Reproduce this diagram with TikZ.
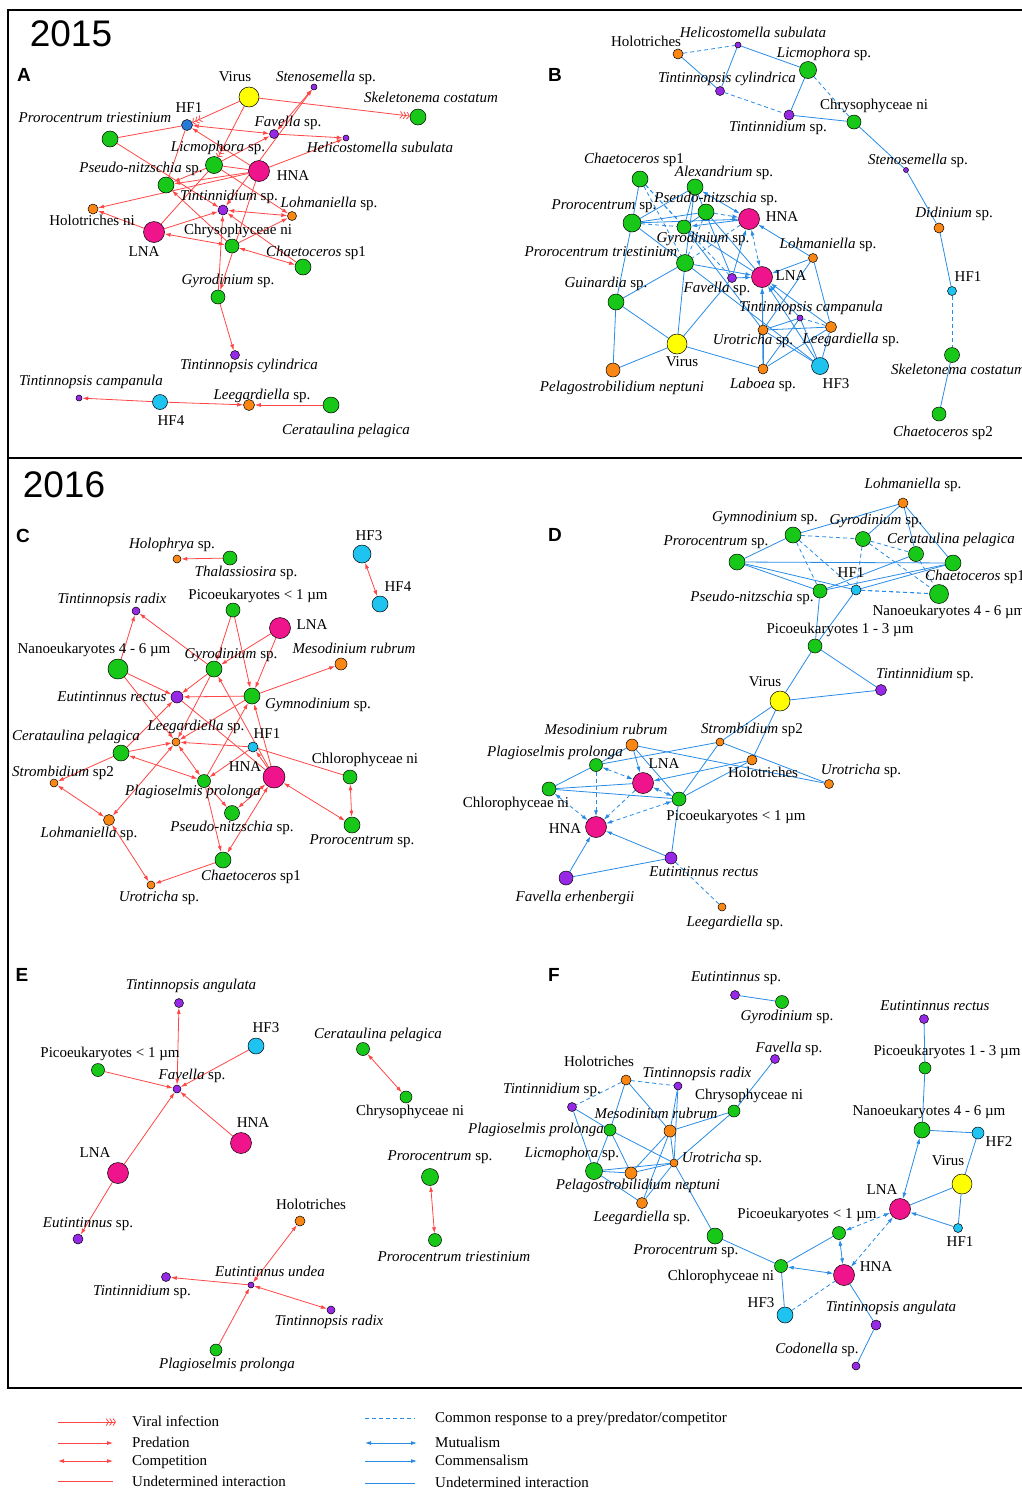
\documentclass[tikz,border=0pt]{standalone}
\usepackage{fontspec}
\setmainfont{Liberation Serif}
\setsansfont{Liberation Sans}
\usetikzlibrary{arrows.meta}
\definecolor{cgr}{RGB}{24,200,24}
\definecolor{cpk}{RGB}{240,20,140}
\definecolor{cyl}{RGB}{255,255,0}
\definecolor{cog}{RGB}{250,135,20}
\definecolor{cpu}{RGB}{150,40,230}
\definecolor{ccy}{RGB}{30,195,240}
\definecolor{cbu}{RGB}{40,120,215}
\definecolor{cred}{RGB}{255,70,70}
\definecolor{cblu}{RGB}{40,140,230}
\pgfdeclarelayer{bg}
\pgfsetlayers{bg,main}
\tikzset{
  >={Latex[length=6pt,width=4pt]},
  nd/.style={circle,draw=black,line width=0.5pt,inner sep=0pt},
  gr/.style={nd,fill=cgr,minimum size=#1},
  pk/.style={nd,fill=cpk,minimum size=#1},
  yl/.style={nd,fill=cyl,minimum size=#1},
  og/.style={nd,fill=cog,minimum size=#1},
  pu/.style={nd,fill=cpu,minimum size=#1},
  cy/.style={nd,fill=ccy,minimum size=#1},
  bu/.style={nd,fill=cbu,minimum size=#1},
  lab/.style={font=\fontsize{15}{17}\selectfont,inner sep=0pt,text height=10pt,text depth=3pt},
  yr/.style={font=\sffamily\fontsize{37}{40}\selectfont,inner sep=0pt},
  pnl/.style={font=\sffamily\bfseries\fontsize{19}{21}\selectfont,inner sep=0pt},
  rd/.style={draw=cred,line width=0.8pt},
  pred/.style={rd,->},
  comp/.style={rd,<->},
  viral/.style={rd,-{Straight Barb[length=2.5pt,width=7pt]Straight Barb[length=2.5pt,width=7pt]Straight Barb[length=2.5pt,width=7pt]}},
  bl/.style={draw=cblu,line width=0.8pt},
  cr/.style={bl,dash pattern=on 4pt off 3pt},
  com/.style={bl,->},
  mut/.style={bl,<->},
  crc/.style={cr,->},
  crm/.style={cr,<->}
}
\begin{document}
\begin{tikzpicture}[x=1pt,y=-1pt]
\useasboundingbox (0,0) rectangle (1021,1489);
\draw[line width=1.6pt] (8,10) rectangle (1040,458);
\draw[line width=1.6pt] (8,458) rectangle (1040,1388);
\node[yr] (y15) at (71,34) {2015};
\node[yr] (y16) at (64,485) {2016};
\node[pnl] (pA) at (24,75) {A};
\node[pnl] (pB) at (555,75) {B};
\node[pnl] (pC) at (23,536) {C};
\node[pnl] (pD) at (555,535) {D};
\node[pnl] (pE) at (22,975) {E};
\node[pnl] (pF) at (554,975) {F};

%panel A
\node[yl=20pt] (aVir) at (249,97) {};
\node[pu=6pt] (aSte) at (314,87) {};
\node[gr=16pt] (aSke) at (418,117) {};
\node[bu=11pt] (aHF1) at (187,125) {};
\node[gr=16pt] (aPtr) at (110,139) {};
\node[pu=9pt] (aFav) at (274,134) {};
\node[pu=6pt] (aHel) at (346,138) {};
\node[gr=17pt] (aLic) at (214,165) {};
\node[pk=21pt] (aHNA) at (259,171) {};
\node[gr=16pt] (aPse) at (166,185) {};
\node[og=10pt] (aHol) at (93,209) {};
\node[pu=10pt] (aTin) at (223,210) {};
\node[og=9pt] (aLoh) at (292,216) {};
\node[pk=21pt] (aLNA) at (154,232) {};
\node[gr=14pt] (aChr) at (232,246) {};
\node[gr=16pt] (aCha) at (303,267) {};
\node[gr=14pt] (aGyr) at (218,297) {};
\node[pu=9pt] (aTcy) at (235,355) {};
\node[pu=6pt] (aTca) at (79,398) {};
\node[cy=15pt] (aHF4) at (160,402) {};
\node[og=11pt] (aLee) at (249,405) {};
\node[gr=16pt] (aCer) at (331,405) {};
\begin{pgfonlayer}{bg}
\draw[viral] (aVir) -- (aHF1);
\draw[viral] (aVir) -- (aLic);
\draw[viral] (aVir) -- (aSke);
\draw[rd] (aPtr) -- (aHF1);
\draw[pred] (aPtr) -- (aTin);
\draw[comp] (aHF1) -- (aFav);
\draw[pred] (aHNA) -- (aHF1);
\draw[rd] (aPse) -- (aHF1);
\draw[pred] (aLic) -- (aPse);
\draw[pred] (aLic) -- (aFav);
\draw[comp] (aFav) -- (aSte);
\draw[comp] (aSte) -- (aTin);
\draw[pred] (aFav) -- (aHel);
\draw[pred] (aHNA) -- (aHel);
\draw[rd] (aLic) -- (aHNA);
\draw[pred] (aLic) -- (aLoh);
\draw[pred] (aHNA) -- (aPse);
\draw[pred] (aHNA) -- (aHol);
\draw[pred] (aLNA) -- (aHol);
\draw[rd] (aLNA) -- (aLic);
\draw[pred] (aChr) -- (aPse);
\draw[pred] (aLNA) -- (aTin);
\draw[comp] (aLNA) -- (aChr);
\draw[comp] (aTin) -- (aLoh);
\draw[pred] (aCha) -- (aTin);
\draw[comp] (aChr) -- (aCha);
\draw[pred] (aChr) -- (aLoh);
\draw[pred] (aGyr) -- (aTin);
\draw[pred] (aHNA) -- (aGyr);
\draw[pred] (aGyr) -- (aTcy);
\draw[pred] (aHF4) -- (aTca);
\draw[pred] (aHF4) -- (aLee);
\draw[pred] (aCer) -- (aLee);
\end{pgfonlayer}
\node[lab] (aVirT) at (235,78) {Virus};
\node[lab] (aSteT) at (326,78) {\textit{Stenosemella} sp.};
\node[lab] (aSkeT) at (431,99) {\textit{Skeletonema costatum}};
\node[lab] (aHF1T) at (189,109) {HF1};
\node[lab] (aPtrT) at (95,119) {\textit{Prorocentrum triestinium}};
\node[lab] (aFavT) at (288,123) {\textit{Favella} sp.};
\node[lab] (aHelT) at (380,149) {\textit{Helicostomella subulata}};
\node[lab] (aLicT) at (218,148) {\textit{Licmophora} sp.};
\node[lab] (aHNAT) at (293,177) {HNA};
\node[lab] (aPseT) at (141,169) {\textit{Pseudo-nitzschia} sp.};
\node[lab] (aTinT) at (229,197) {\textit{Tintinnidium} sp.};
\node[lab] (aLohT) at (329,204) {\textit{Lohmaniella} sp.};
\node[lab] (aHolT) at (92,222) {Holotriches ni};
\node[lab] (aChrT) at (238,231) {Chrysophyceae ni};
\node[lab] (aLNAT) at (144,253) {LNA};
\node[lab] (aChaT) at (316,253) {\textit{Chaetoceros} sp1};
\node[lab] (aGyrT) at (228,281) {\textit{Gyrodinium} sp.};
\node[lab] (aTcyT) at (249,366) {\textit{Tintinnopsis cylindrica}};
\node[lab] (aTcaT) at (91,382) {\textit{Tintinnopsis campanula}};
\node[lab] (aLeeT) at (262,396) {\textit{Leegardiella} sp.};
\node[lab] (aHF4T) at (171,422) {HF4};
\node[lab] (aCerT) at (346,431) {\textit{Cerataulina pelagica}};

%panel B
\node[og=10pt] (bHol) at (678,54) {};
\node[pu=6pt] (bHel) at (738,45) {};
\node[gr=17pt] (bLic) at (808,70) {};
\node[pu=9pt] (bTcy) at (720,91) {};
\node[pu=10pt] (bTin) at (789,115) {};
\node[gr=14pt] (bChr) at (854,122) {};
\node[pu=5pt] (bSte) at (906,170) {};
\node[og=10pt] (bDid) at (939,228) {};
\node[cy=9pt] (bHF1) at (952,291) {};
\node[gr=15pt] (bSke) at (952,355) {};
\node[gr=14pt] (bCh2) at (939,414) {};
\node[gr=16pt] (bCh1) at (640,179) {};
\node[gr=16pt] (bAlx) at (695,187) {};
\node[gr=16pt] (bPse) at (706,212) {};
\node[gr=18pt] (bPro) at (632,223) {};
\node[gr=14pt] (bGyr) at (684,227) {};
\node[pk=21pt] (bHNA) at (749,219) {};
\node[gr=17pt] (bPtr) at (685,263) {};
\node[og=9pt] (bLoh) at (813,258) {};
\node[pu=9pt] (bFav) at (732,278) {};
\node[pk=21pt] (bLNA) at (762,277) {};
\node[gr=16pt] (bGui) at (616,302) {};
\node[pu=6pt] (bTca) at (800,318) {};
\node[og=10pt] (bUro) at (763,330) {};
\node[og=11pt] (bLee) at (831,327) {};
\node[yl=20pt] (bVir) at (677,344) {};
\node[og=14pt] (bPel) at (613,370) {};
\node[og=10pt] (bLab) at (763,369) {};
\node[cy=17pt] (bHF3) at (820,366) {};
\begin{pgfonlayer}{bg}
\draw[cr] (bHol) -- (bHel);
\draw[bl] (bHol) -- (bTcy);
\draw[bl] (bHel) -- (bTcy);
\draw[bl] (bHel) -- (bLic);
\draw[cr] (bTcy) -- (bTin);
\draw[bl] (bLic) -- (bTin);
\draw[cr] (bLic) -- (bChr);
\draw[bl] (bTin) -- (bChr);
\draw[bl] (bChr) -- (bSte);
\draw[bl] (bSte) -- (bDid);
\draw[bl] (bDid) -- (bHF1);
\draw[cr] (bHF1) -- (bSke);
\draw[bl] (bSke) -- (bCh2);
\draw[bl] (bCh1) -- (bPro);
\draw[cr] (bCh1) -- (bGyr);
\draw[cr] (bCh1) -- (bPtr);
\draw[cr] (bCh1) -- (bFav);
\draw[bl] (bAlx) -- (bPro);
\draw[mut] (bAlx) -- (bHNA);
\draw[bl] (bAlx) -- (bFav);
\draw[bl] (bAlx) -- (bGyr);
\draw[bl] (bAlx) -- (bPtr);
\draw[bl] (bPro) -- (bPse);
\draw[com] (bPro) -- (bHNA);
\draw[cr] (bPro) -- (bGyr);
\draw[bl] (bPro) -- (bPtr);
\draw[bl] (bPro) -- (bGui);
\draw[crc] (bPse) -- (bHNA);
\draw[bl] (bPse) -- (bGyr);
\draw[cr] (bPse) -- (bPtr);
\draw[bl] (bPse) -- (bLNA);
\draw[com] (bHNA) -- (bGyr);
\draw[crm] (bHNA) -- (bLNA);
\draw[cr] (bHNA) -- (bPtr);
\draw[bl] (bGyr) -- (bLNA);
\draw[bl] (bGyr) -- (bUro);
\draw[com] (bPtr) -- (bLNA);
\draw[bl] (bPtr) -- (bGui);
\draw[bl] (bPtr) -- (bHF3);
\draw[bl] (bPtr) -- (bVir);
\draw[com] (bLoh) -- (bHNA);
\draw[com] (bLoh) -- (bLNA);
\draw[bl] (bLoh) -- (bUro);
\draw[bl] (bLoh) -- (bLee);
\draw[com] (bFav) -- (bHNA);
\draw[com] (bFav) -- (bLNA);
\draw[bl] (bFav) -- (bVir);
\draw[com] (bTca) -- (bLNA);
\draw[com] (bUro) -- (bLNA);
\draw[com] (bLee) -- (bLNA);
\draw[com] (bHF3) -- (bLNA);
\draw[com] (bLab) -- (bLNA);
\draw[bl] (bUro) -- (bLee);
\draw[bl] (bUro) -- (bTca);
\draw[bl] (bUro) -- (bLab);
\draw[bl] (bUro) -- (bHF3);
\draw[bl] (bLee) -- (bLab);
\draw[cr] (bLee) -- (bTca);
\draw[bl] (bLee) -- (bHF3);
\draw[bl] (bVir) -- (bGui);
\draw[bl] (bVir) -- (bPel);
\draw[bl] (bVir) -- (bLab);
\draw[bl] (bGui) -- (bPel);
\draw[bl] (bLab) -- (bTca);
\draw[bl] (bHF3) -- (bTca);
\end{pgfonlayer}
\node[lab] (bHolT) at (646,43) {Holotriches};
\node[lab] (bHelT) at (753,34) {\textit{Helicostomella subulata}};
\node[lab] (bLicT) at (824,54) {\textit{Licmophora} sp.};
\node[lab] (bTcyT) at (727,79) {\textit{Tintinnopsis cylindrica}};
\node[lab] (bChrT) at (874,106) {Chrysophyceae ni};
\node[lab] (bTinT) at (778,128) {\textit{Tintinnidium} sp.};
\node[lab] (bSteT) at (918,161) {\textit{Stenosemella} sp.};
\node[lab] (bCh1T) at (634,160) {\textit{Chaetoceros} sp1};
\node[lab] (bAlxT) at (724,173) {\textit{Alexandrium} sp.};
\node[lab] (bPseT) at (716,199) {\textit{Pseudo-nitzschia} sp.};
\node[lab] (bProT) at (604,206) {\textit{Prorocentrum} sp.};
\node[lab] (bHNAT) at (782,218) {HNA};
\node[lab] (bGyrT) at (703,239) {\textit{Gyrodinium} sp.};
\node[lab] (bDidT) at (954,214) {\textit{Didinium} sp.};
\node[lab] (bLohT) at (828,245) {\textit{Lohmaniella} sp.};
\node[lab] (bPtrT) at (601,253) {\textit{Prorocentrum triestinium}};
\node[lab] (bLNAT) at (791,277) {LNA};
\node[lab] (bHF1T) at (968,278) {HF1};
\node[lab] (bGuiT) at (606,284) {\textit{Guinardia} sp.};
\node[lab] (bFavT) at (717,289) {\textit{Favella} sp.};
\node[lab] (bTcaT) at (811,308) {\textit{Tintinnopsis campanula}};
\node[lab] (bUroT) at (753,341) {\textit{Urotricha} sp.};
\node[lab] (bLeeT) at (851,340) {\textit{Leegardiella} sp.};
\node[lab] (bVirT) at (682,363) {Virus};
\node[lab] (bSkeT) at (958,371) {\textit{Skeletonema costatum}};
\node[lab] (bPelT) at (622,388) {\textit{Pelagostrobilidium neptuni}};
\node[lab] (bLabT) at (763,385) {\textit{Laboea} sp.};
\node[lab] (bHF3T) at (836,385) {HF3};
\node[lab] (bCh2T) at (943,433) {\textit{Chaetoceros} sp2};

%panel C
\node[og=8pt] (cHol) at (177,559) {};
\node[gr=14pt] (cTha) at (230,558) {};
\node[cy=18pt] (cHF3) at (362,554) {};
\node[cy=16pt] (cHF4) at (380,604) {};
\node[pu=8pt] (cTra) at (136,611) {};
\node[gr=14pt] (cPic) at (233,610) {};
\node[pk=21pt] (cLNA) at (280,628) {};
\node[gr=20pt] (cNan) at (118,669) {};
\node[gr=16pt] (cGyr) at (214,669) {};
\node[og=12pt] (cMes) at (341,664) {};
\node[pu=12pt] (cEre) at (177,697) {};
\node[gr=16pt] (cGym) at (252,696) {};
\node[og=8pt] (cLee) at (176,742) {};
\node[cy=10pt] (cHF1) at (253,747) {};
\node[gr=16pt] (cCer) at (121,753) {};
\node[og=8pt] (cStr) at (54,783) {};
\node[pk=22pt] (cHNA) at (274,777) {};
\node[gr=13pt] (cPla) at (204,781) {};
\node[gr=14pt] (cChl) at (350,777) {};
\node[gr=15pt] (cPse) at (232,813) {};
\node[og=11pt] (cLoh) at (109,820) {};
\node[gr=16pt] (cPro) at (352,825) {};
\node[gr=16pt] (cCha) at (223,860) {};
\node[og=8pt] (cUro) at (151,885) {};
\begin{pgfonlayer}{bg}
\draw[pred] (cTha) -- (cHol);
\draw[comp] (cHF3) -- (cHF4);
\draw[pred] (cNan) -- (cTra);
\draw[pred] (cGyr) -- (cTra);
\draw[pred] (cPic) -- (cGyr);
\draw[pred] (cPic) -- (cGym);
\draw[pred] (cLNA) -- (cGyr);
\draw[pred] (cLNA) -- (cGym);
\draw[pred] (cNan) -- (cEre);
\draw[pred] (cNan) -- (cLee);
\draw[pred] (cGyr) -- (cEre);
\draw[pred] (cGyr) -- (cLee);
\draw[pred] (cGym) -- (cEre);
\draw[pred] (cGym) -- (cMes);
\draw[pred] (cGym) -- (cLee);
\draw[pred] (cHF1) -- (cLee);
\draw[pred] (cCer) -- (cLee);
\draw[pred] (cCer) -- (cEre);
\draw[pred] (cCer) -- (cStr);
\draw[comp] (cCer) -- (cPla);
\draw[comp] (cLee) -- (cPla);
\draw[comp] (cLee) -- (cLoh);
\draw[comp] (cStr) -- (cLoh);
\draw[comp] (cLoh) -- (cUro);
\draw[pred] (cCha) -- (cUro);
\draw[pred] (cHNA) -- (cGyr);
\draw[pred] (cHNA) -- (cGym);
\draw[pred] (cHNA) -- (cHF1);
\draw[rd] (cEre) -- (cHNA);
\draw[pred] (cHF1) -- (cPla);
\draw[rd] (cHF1) -- (cChl);
\draw[comp] (cHNA) -- (cPro);
\draw[comp] (cChl) -- (cPro);
\draw[comp] (cHNA) -- (cPse);
\draw[comp] (cHNA) -- (cCha);
\draw[pred] (cPla) -- (cPse);
\draw[pred] (cPla) -- (cCha);
\draw[pred] (cPla) -- (cGym);
\end{pgfonlayer}
\node[lab] (cHolT) at (172,545) {\textit{Holophrya} sp.};
\node[lab] (cThaT) at (246,573) {\textit{Thalassiosira} sp.};
\node[lab] (cHF3T) at (369,537) {HF3};
\node[lab] (cHF4T) at (398,588) {HF4};
\node[lab] (cTraT) at (112,600) {\textit{Tintinnopsis radix}};
\node[lab] (cPicT) at (258,596) {Picoeukaryotes < 1 µm};
\node[lab] (cLNAT) at (312,626) {LNA};
\node[lab] (cNanT) at (94,650) {Nanoeukaryotes 4 - 6 µm};
\node[lab] (cGyrT) at (231,655) {\textit{Gyrodinium} sp.};
\node[lab] (cMesT) at (354,650) {\textit{Mesodinium rubrum}};
\node[lab] (cEreT) at (112,698) {\textit{Eutintinnus rectus}};
\node[lab] (cGymT) at (318,705) {\textit{Gymnodinium} sp.};
\node[lab] (cLeeT) at (196,727) {\textit{Leegardiella} sp.};
\node[lab] (cHF1T) at (267,735) {HF1};
\node[lab] (cCerT) at (76,737) {\textit{Cerataulina pelagica}};
\node[lab] (cChlT) at (365,760) {Chlorophyceae ni};
\node[lab] (cHNAT) at (245,768) {HNA};
\node[lab] (cStrT) at (63,773) {\textit{Strombidium} sp2};
\node[lab] (cPlaT) at (193,792) {\textit{Plagioselmis prolonga}};
\node[lab] (cPseT) at (232,828) {\textit{Pseudo-nitzschia} sp.};
\node[lab] (cLohT) at (89,834) {\textit{Lohmaniella} sp.};
\node[lab] (cProT) at (362,841) {\textit{Prorocentrum} sp.};
\node[lab] (cChaT) at (251,877) {\textit{Chaetoceros} sp1};
\node[lab] (cUroT) at (159,898) {\textit{Urotricha} sp.};

%panel D
\node[og=10pt] (dLoh) at (903,503) {};
\node[gr=16pt] (dGym) at (793,535) {};
\node[gr=15pt] (dGyr) at (863,539) {};
\node[gr=16pt] (dPro) at (737,562) {};
\node[gr=15pt] (dCer) at (916,554) {};
\node[gr=16pt] (dCha) at (953,563) {};
\node[gr=14pt] (dPse) at (820,591) {};
\node[cy=10pt] (dHF1) at (856,590) {};
\node[gr=19pt] (dNan) at (939,594) {};
\node[gr=14pt] (dP13) at (815,646) {};
\node[pu=11pt] (dTin) at (881,690) {};
\node[yl=20pt] (dVir) at (780,701) {};
\node[og=12pt] (dMes) at (632,745) {};
\node[og=8pt] (dStr) at (720,742) {};
\node[gr=13pt] (dPla) at (596,765) {};
\node[og=10pt] (dHol) at (752,760) {};
\node[pk=21pt] (dLNA) at (643,783) {};
\node[og=9pt] (dUro) at (829,784) {};
\node[gr=14pt] (dChl) at (549,789) {};
\node[gr=14pt] (dP1) at (679,799) {};
\node[pk=21pt] (dHNA) at (596,827) {};
\node[pu=12pt] (dEre) at (671,858) {};
\node[pu=14pt] (dFer) at (566,878) {};
\node[og=8pt] (dLee) at (722,907) {};
\begin{pgfonlayer}{bg}
\draw[bl] (dLoh) -- (dGym);
\draw[bl] (dLoh) -- (dGyr);
\draw[bl] (dLoh) -- (dCha);
\draw[bl] (dLoh) -- (dCer);
\draw[bl] (dGym) -- (dPro);
\draw[cr] (dGym) -- (dGyr);
\draw[cr] (dGym) -- (dPse);
\draw[cr] (dGym) -- (dHF1);
\draw[cr] (dGyr) -- (dHF1);
\draw[cr] (dGyr) -- (dCer);
\draw[cr] (dGyr) -- (dNan);
\draw[bl] (dPro) -- (dPse);
\draw[bl] (dPro) -- (dHF1);
\draw[bl] (dPro) -- (dCha);
\draw[bl] (dCer) -- (dPse);
\draw[cr] (dCer) -- (dNan);
\draw[bl] (dCha) -- (dPse);
\draw[bl] (dCha) -- (dHF1);
\draw[cr,line width=1.1pt] (dHF1) -- (dNan);
\draw[bl] (dPse) -- (dP13);
\draw[bl] (dHF1) -- (dP13);
\draw[bl] (dP13) -- (dVir);
\draw[bl] (dP13) -- (dTin);
\draw[bl] (dVir) -- (dTin);
\draw[bl] (dVir) -- (dStr);
\draw[bl] (dVir) -- (dHol);
\draw[bl] (dStr) -- (dP1);
\draw[bl] (dStr) -- (dPla);
\draw[bl] (dStr) -- (dUro);
\draw[bl] (dMes) -- (dPla);
\draw[com] (dMes) -- (dLNA);
\draw[bl] (dMes) -- (dP1);
\draw[bl] (dMes) -- (dUro);
\draw[com] (dHol) -- (dLNA);
\draw[bl] (dHol) -- (dP1);
\draw[crm] (dPla) -- (dLNA);
\draw[crc] (dPla) -- (dHNA);
\draw[bl] (dPla) -- (dChl);
\draw[bl] (dChl) -- (dLNA);
\draw[bl] (dChl) -- (dP1);
\draw[crm] (dChl) -- (dHNA);
\draw[crm] (dLNA) -- (dP1);
\draw[crc] (dLNA) -- (dHNA);
\draw[crm] (dP1) -- (dHNA);
\draw[bl] (dP1) -- (dEre);
\draw[com] (dEre) -- (dHNA);
\draw[com] (dFer) -- (dHNA);
\draw[bl] (dFer) -- (dEre);
\draw[cr] (dEre) -- (dLee);
\end{pgfonlayer}
\node[lab] (dLohT) at (913,485) {\textit{Lohmaniella} sp.};
\node[lab] (dGymT) at (765,518) {\textit{Gymnodinium} sp.};
\node[lab] (dGyrT) at (876,521) {\textit{Gyrodinium} sp.};
\node[lab] (dProT) at (716,542) {\textit{Prorocentrum} sp.};
\node[lab] (dCerT) at (951,540) {\textit{Cerataulina pelagica}};
\node[lab] (dChaT) at (975,577) {\textit{Chaetoceros} sp1};
\node[lab] (dHF1T) at (851,574) {HF1};
\node[lab] (dPseT) at (752,598) {\textit{Pseudo-nitzschia} sp.};
\node[lab] (dNanT) at (949,612) {Nanoeukaryotes 4 - 6 µm};
\node[lab] (dP13T) at (840,630) {Picoeukaryotes 1 - 3 µm};
\node[lab] (dTinT) at (925,675) {\textit{Tintinnidium} sp.};
\node[lab] (dVirT) at (765,683) {Virus};
\node[lab] (dMesT) at (606,731) {\textit{Mesodinium rubrum}};
\node[lab] (dStrT) at (752,730) {\textit{Strombidium} sp2};
\node[lab] (dPlaT) at (555,753) {\textit{Plagioselmis prolonga}};
\node[lab] (dLNAT) at (664,765) {LNA};
\node[lab] (dHolT) at (763,774) {Holotriches};
\node[lab] (dUroT) at (861,771) {\textit{Urotricha} sp.};
\node[lab] (dChlT) at (516,804) {Chlorophyceae ni};
\node[lab] (dP1T) at (736,817) {Picoeukaryotes < 1 µm};
\node[lab] (dHNAT) at (565,830) {HNA};
\node[lab] (dEreT) at (704,873) {\textit{Eutintinnus rectus}};
\node[lab] (dFerT) at (575,898) {\textit{Favella erhenbergii}};
\node[lab] (dLeeT) at (735,923) {\textit{Leegardiella} sp.};

%panel E
\node[pu=9pt] (eTan) at (179,1003) {};
\node[cy=16pt] (eHF3) at (256,1046) {};
\node[gr=13pt] (ePic) at (98,1070) {};
\node[pu=8pt] (eFav) at (177,1089) {};
\node[pk=21pt] (eHNA) at (241,1143) {};
\node[pk=21pt] (eLNA) at (118,1173) {};
\node[pu=10pt] (eEsp) at (78,1239) {};
\node[gr=13pt] (eCer) at (363,1049) {};
\node[gr=12pt] (eChr) at (406,1097) {};
\node[gr=17pt] (ePro) at (430,1177) {};
\node[gr=13pt] (ePtr) at (435,1240) {};
\node[og=10pt] (eHol) at (300,1221) {};
\node[pu=6pt] (eUnd) at (251,1285) {};
\node[pu=9pt] (eTin) at (166,1277) {};
\node[pu=8pt] (eTra) at (331,1310) {};
\node[gr=12pt] (ePla) at (216,1350) {};
\begin{pgfonlayer}{bg}
\draw[comp] (eFav) -- (eTan);
\draw[pred] (eHF3) -- (eFav);
\draw[pred] (ePic) -- (eFav);
\draw[pred] (eHNA) -- (eFav);
\draw[pred] (eLNA) -- (eFav);
\draw[pred] (eLNA) -- (eEsp);
\draw[comp] (eCer) -- (eChr);
\draw[comp] (ePro) -- (ePtr);
\draw[comp] (eUnd) -- (eHol);
\draw[pred] (eUnd) -- (eTin);
\draw[comp] (eUnd) -- (eTra);
\draw[pred] (ePla) -- (eUnd);
\end{pgfonlayer}
\node[lab] (eTanT) at (191,986) {\textit{Tintinnopsis angulata}};
\node[lab] (eHF3T) at (266,1029) {HF3};
\node[lab] (eCerT) at (378,1035) {\textit{Cerataulina pelagica}};
\node[lab] (ePicT) at (110,1054) {Picoeukaryotes < 1 µm};
\node[lab] (eFavT) at (192,1076) {\textit{Favella} sp.};
\node[lab] (eChrT) at (410,1112) {Chrysophyceae ni};
\node[lab] (eHNAT) at (253,1124) {HNA};
\node[lab] (eLNAT) at (95,1154) {LNA};
\node[lab] (eProT) at (440,1157) {\textit{Prorocentrum} sp.};
\node[lab] (eHolT) at (311,1206) {Holotriches};
\node[lab] (eEspT) at (88,1224) {\textit{Eutintinnus} sp.};
\node[lab] (ePtrT) at (454,1258) {\textit{Prorocentrum triestinium}};
\node[lab] (eUndT) at (270,1273) {\textit{Eutintinnus undea}};
\node[lab] (eTinT) at (142,1292) {\textit{Tintinnidium} sp.};
\node[lab] (eTraT) at (329,1322) {\textit{Tintinnopsis radix}};
\node[lab] (ePlaT) at (227,1365) {\textit{Plagioselmis prolonga}};

%panel F
\node[pu=9pt] (fEsp) at (735,995) {};
\node[gr=13pt] (fGyr) at (782,1002) {};
\node[pu=9pt] (fEre) at (924,1019) {};
\node[pu=9pt] (fFav) at (775,1059) {};
\node[gr=12pt] (fP13) at (925,1068) {};
\node[og=10pt] (fHol) at (626,1080) {};
\node[pu=8pt] (fTra) at (678,1086) {};
\node[pu=9pt] (fTin) at (572,1107) {};
\node[gr=12pt] (fChr) at (734,1111) {};
\node[og=12pt] (fMes) at (670,1131) {};
\node[gr=12pt] (fPla) at (610,1130) {};
\node[gr=16pt] (fNan) at (922,1130) {};
\node[cy=12pt] (fHF2) at (978,1133) {};
\node[og=8pt] (fUro) at (674,1163) {};
\node[gr=17pt] (fLic) at (594,1171) {};
\node[og=12pt] (fPel) at (631,1173) {};
\node[yl=20pt] (fVir) at (962,1184) {};
\node[og=11pt] (fLee) at (642,1203) {};
\node[pk=21pt] (fLNA) at (900,1209) {};
\node[cy=9pt] (fHF1) at (958,1228) {};
\node[gr=13pt] (fP1) at (839,1233) {};
\node[gr=16pt] (fPro) at (715,1236) {};
\node[gr=13pt] (fChl) at (781,1266) {};
\node[pk=21pt] (fHNA) at (844,1275) {};
\node[cy=16pt] (fHF3) at (785,1315) {};
\node[pu=10pt] (fTan) at (876,1325) {};
\node[pu=8pt] (fCod) at (856,1366) {};
\begin{pgfonlayer}{bg}
\draw[bl] (fEsp) -- (fGyr);
\draw[bl] (fEre) -- (fP13);
\draw[bl] (fP13) -- (fNan);
\draw[bl] (fNan) -- (fHF2);
\draw[mut] (fNan) -- (fLNA);
\draw[bl] (fHF2) -- (fVir);
\draw[bl] (fVir) -- (fLNA);
\draw[bl] (fVir) -- (fHF1);
\draw[com] (fHF1) -- (fLNA);
\draw[crm] (fP1) -- (fLNA);
\draw[crm] (fHNA) -- (fLNA);
\draw[mut] (fP1) -- (fHNA);
\draw[bl] (fP1) -- (fChl);
\draw[mut] (fChl) -- (fHNA);
\draw[bl] (fChl) -- (fHF3);
\draw[bl] (fChl) -- (fPro);
\draw[cr] (fHF3) -- (fHNA);
\draw[bl] (fHNA) -- (fTan);
\draw[bl] (fTan) -- (fCod);
\draw[bl] (fPro) -- (fUro);
\draw[bl] (fFav) -- (fChr);
\draw[bl] (fChr) -- (fMes);
\draw[bl] (fChr) -- (fUro);
\draw[cr] (fHol) -- (fTra);
\draw[cr] (fHol) -- (fTin);
\draw[bl] (fHol) -- (fPla);
\draw[bl] (fHol) -- (fMes);
\draw[bl] (fTra) -- (fMes);
\draw[bl] (fTra) -- (fUro);
\draw[bl] (fTin) -- (fLic);
\draw[bl] (fTin) -- (fPla);
\draw[bl] (fPla) -- (fLic);
\draw[bl] (fPla) -- (fPel);
\draw[bl] (fPla) -- (fUro);
\draw[bl] (fMes) -- (fPel);
\draw[bl] (fMes) -- (fLee);
\draw[bl] (fMes) -- (fUro);
\draw[bl] (fLic) -- (fPel);
\draw[bl] (fLic) -- (fUro);
\draw[bl] (fLic) -- (fLee);
\draw[bl] (fPel) -- (fUro);
\draw[bl] (fUro) -- (fLee);
\end{pgfonlayer}
\node[lab] (fEspT) at (736,978) {\textit{Eutintinnus} sp.};
\node[lab] (fGyrT) at (787,1017) {\textit{Gyrodinium} sp.};
\node[lab] (fEreT) at (935,1007) {\textit{Eutintinnus rectus}};
\node[lab] (fFavT) at (789,1049) {\textit{Favella} sp.};
\node[lab] (fP13T) at (947,1052) {Picoeukaryotes 1 - 3 µm};
\node[lab] (fHolT) at (599,1063) {Holotriches};
\node[lab] (fTraT) at (697,1074) {\textit{Tintinnopsis radix}};
\node[lab] (fTinT) at (552,1090) {\textit{Tintinnidium} sp.};
\node[lab] (fChrT) at (749,1096) {Chrysophyceae ni};
\node[lab] (fMesT) at (656,1115) {\textit{Mesodinium rubrum}};
\node[lab] (fNanT) at (929,1112) {Nanoeukaryotes 4 - 6 µm};
\node[lab] (fPlaT) at (536,1130) {\textit{Plagioselmis prolonga}};
\node[lab] (fHF2T) at (999,1143) {HF2};
\node[lab] (fLicT) at (572,1154) {\textit{Licmophora} sp.};
\node[lab] (fUroT) at (722,1159) {\textit{Urotricha} sp.};
\node[lab] (fVirT) at (948,1162) {Virus};
\node[lab] (fPelT) at (638,1186) {\textit{Pelagostrobilidium neptuni}};
\node[lab] (fLNAT) at (882,1191) {LNA};
\node[lab] (fLeeT) at (642,1218) {\textit{Leegardiella} sp.};
\node[lab] (fP1T) at (807,1215) {Picoeukaryotes < 1 µm};
\node[lab] (fHF1T) at (960,1243) {HF1};
\node[lab] (fProT) at (686,1251) {\textit{Prorocentrum} sp.};
\node[lab] (fHNAT) at (876,1268) {HNA};
\node[lab] (fChlT) at (721,1277) {Chlorophyceae ni};
\node[lab] (fHF3T) at (761,1304) {HF3};
\node[lab] (fTanT) at (891,1308) {\textit{Tintinnopsis angulata}};
\node[lab] (fCodT) at (817,1350) {\textit{Codonella} sp.};

%legend
\coordinate (l1a) at (58,1422); \coordinate (l1b) at (116,1422);
\coordinate (l2a) at (58,1443); \coordinate (l2b) at (113,1443);
\coordinate (l3a) at (58,1461); \coordinate (l3b) at (113,1461);
\coordinate (l4a) at (58,1481); \coordinate (l4b) at (113,1481);
\coordinate (r1a) at (365,1418); \coordinate (r1b) at (415,1418);
\coordinate (r2a) at (365,1443); \coordinate (r2b) at (417,1443);
\coordinate (r3a) at (365,1461); \coordinate (r3b) at (417,1461);
\coordinate (r4a) at (365,1483); \coordinate (r4b) at (415,1483);
\draw[viral] (l1a) -- (l1b);
\draw[pred] (l2a) -- (l2b);
\draw[comp] (l3a) -- (l3b);
\draw[rd] (l4a) -- (l4b);
\draw[cr] (r1a) -- (r1b);
\draw[mut] (r2a) -- (r2b);
\draw[com] (r3a) -- (r3b);
\draw[bl] (r4a) -- (r4b);
\node[lab,anchor=west] (l1t) at (132,1423) {Viral infection};
\node[lab,anchor=west] (l2t) at (132,1444) {Predation};
\node[lab,anchor=west] (l3t) at (132,1462) {Competition};
\node[lab,anchor=west] (l4t) at (132,1483) {Undetermined interaction};
\node[lab,anchor=west] (r1t) at (435,1419) {Common response to a prey/predator/competitor};
\node[lab,anchor=west] (r2t) at (435,1444) {Mutualism};
\node[lab,anchor=west] (r3t) at (435,1462) {Commensalism};
\node[lab,anchor=west] (r4t) at (435,1484) {Undetermined interaction};
\end{tikzpicture}
\end{document}
